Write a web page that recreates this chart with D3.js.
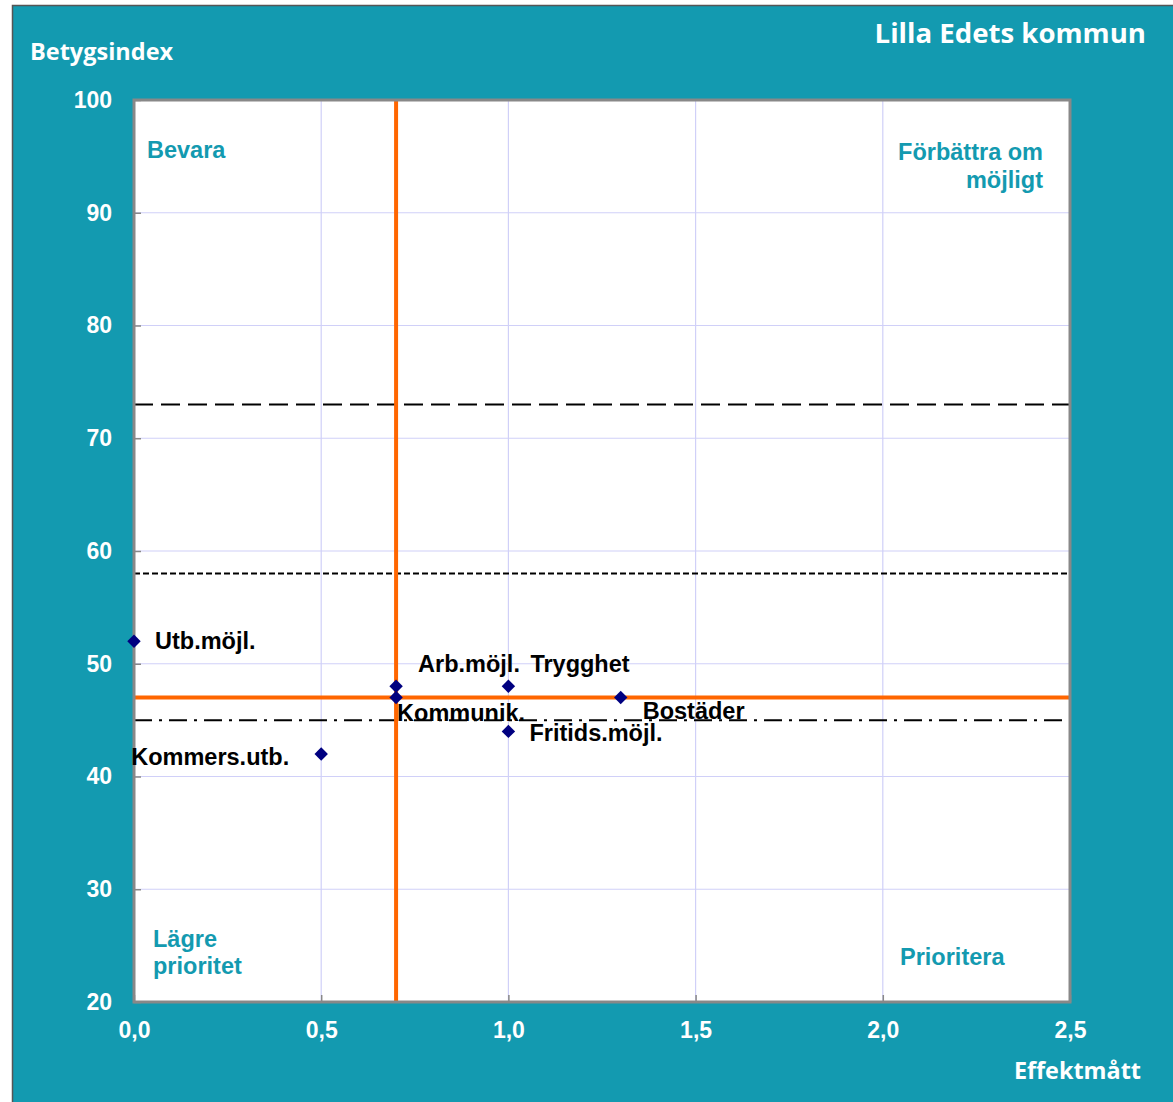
<!DOCTYPE html>
<html>
<head>
<meta charset="utf-8">
<script src="https://cdn.jsdelivr.net/npm/d3@7"></script>
<style>
  body { margin: 0; background: #fff; }
  svg { display: block; }
</style>
</head>
<body>
<div id="chart"></div>
<script>
// data
var names = ['Utb.möjl.', 'Arb.möjl.', 'Kommunik.', 'Trygghet', 'Fritids.möjl.', 'Bostäder', 'Kommers.utb.'];
var effekt = [0.0, 0.7, 0.7, 1.0, 1.0, 1.3, 0.5];
var betyg = [52, 48, 47, 48, 44, 47, 42];

var xTicks = [0, 0.5, 1.0, 1.5, 2.0, 2.5];
var yTicks = [20, 30, 40, 50, 60, 70, 80, 90, 100];

// reference lines
var midX = 0.7;          // orange vertical
var midY = 47;           // orange horizontal
var refLong = 73;        // long dashes
var refShort = 58;       // short dashes
var refDashDot = 45;     // dash-dot

var W = 1173, H = 1102;
var teal = '#139ab0';
var margins = {left: 134, right: 103, top: 100, bottom: 100};
var w = W - margins.left - margins.right,
    h = H - margins.top - margins.bottom;

var svg = d3.select('#chart')
  .append('svg')
  .attr('width', W)
  .attr('height', H);

// outer teal frame
svg.append('rect')
  .attr('x', 12.5).attr('y', 5.5)
  .attr('width', W).attr('height', H)
  .attr('fill', teal)
  .attr('stroke', '#555')
  .attr('stroke-width', 1.5);

var g = svg.append('g')
  .attr('transform', 'translate(' + margins.left + ',' + margins.top + ')');

var x = d3.scaleLinear().domain([0, 2.5]).range([0, w]);
var y = d3.scaleLinear().domain([20, 100]).range([h, 0]);

g.append('rect')
  .attr('width', w).attr('height', h)
  .attr('fill', '#fff');

// grid
g.append('g').selectAll('line')
  .data(yTicks.slice(1, -1))
  .enter().append('line')
  .attr('x1', 0).attr('x2', w)
  .attr('y1', function(d) { return y(d); })
  .attr('y2', function(d) { return y(d); })
  .attr('stroke', '#d0d0f8').attr('stroke-width', 1.2);
g.append('g').selectAll('line')
  .data(xTicks.slice(1, -1))
  .enter().append('line')
  .attr('y1', 0).attr('y2', h)
  .attr('x1', function(d) { return x(d); })
  .attr('x2', function(d) { return x(d); })
  .attr('stroke', '#d0d0f8').attr('stroke-width', 1.2);

// axes (ticks inside, labels white)
var fmt = function(d) { return d3.format('.1f')(d).replace('.', ','); };
var yAxis = g.append('g')
  .call(d3.axisLeft(y).tickValues(yTicks).tickSize(-7).tickPadding(22));
var xAxis = g.append('g')
  .attr('transform', 'translate(0,' + h + ')')
  .call(d3.axisBottom(x).tickValues(xTicks).tickSize(-7).tickPadding(20).tickFormat(fmt));
[xAxis, yAxis].forEach(function(a) {
  a.select('.domain').remove();
  a.selectAll('line').attr('stroke', '#888').attr('stroke-width', 1.5);
  a.selectAll('text')
    .attr('fill', '#fff')
    .style('font-family', '"Liberation Sans", Arial, sans-serif')
    .style('font-weight', 'bold')
    .style('font-size', '23px');
});

// dashed reference lines
function hline(v, dash) {
  g.append('line')
    .attr('x1', 0).attr('x2', w)
    .attr('y1', y(v)).attr('y2', y(v))
    .attr('stroke', '#000').attr('stroke-width', 2)
    .attr('stroke-dasharray', dash);
}
hline(refLong, '19,8');
hline(refShort, '6,3');
hline(refDashDot, '18,7,3,7');

// orange quadrant lines
g.append('line')
  .attr('x1', x(midX)).attr('x2', x(midX))
  .attr('y1', 0).attr('y2', h)
  .attr('stroke', '#ff6600').attr('stroke-width', 4);
g.append('line')
  .attr('x1', 0).attr('x2', w)
  .attr('y1', y(midY)).attr('y2', y(midY))
  .attr('stroke', '#ff6600').attr('stroke-width', 4);

// plot border
g.append('rect')
  .attr('width', w).attr('height', h)
  .attr('fill', 'none')
  .attr('stroke', '#888').attr('stroke-width', 3);

// quadrant captions
var qFont = '"Liberation Sans", Arial, sans-serif';
function caption(lines, px, py, anchor, lh) {
  var t = g.append('text')
    .attr('fill', teal)
    .style('font-family', qFont)
    .style('font-weight', 'bold')
    .style('font-size', '23.5px')
    .attr('text-anchor', anchor);
  lines.forEach(function(s, i) {
    t.append('tspan').attr('x', px).attr('y', py + i * lh).text(s);
  });
}
caption(['Bevara'], 13, 58, 'start', 28);
caption(['Förbättra om', 'möjligt'], 909, 60, 'end', 28);
caption(['Lägre', 'prioritet'], 19, 847, 'start', 27);
caption(['Prioritera'], 766, 865, 'start', 28);

// points
var pts = names.map(function(n, i) { return {name: n, x: effekt[i], y: betyg[i]}; });
g.append('g').selectAll('path')
  .data(pts)
  .enter().append('path')
  .attr('d', d3.symbol().type(d3.symbolDiamond2).size(115))
  .attr('transform', function(d) { return 'translate(' + x(d.x) + ',' + y(d.y) + ')'; })
  .attr('fill', '#000080');

// label offsets (px) relative to each point
var labelOffset = {
  'Utb.möjl.': [21, 8, 'start'],
  'Arb.möjl.': [22, -14, 'start'],
  'Kommunik.': [1, 23, 'start'],
  'Trygghet': [22, -14, 'start'],
  'Fritids.möjl.': [21, 10, 'start'],
  'Bostäder': [22, 21, 'start'],
  'Kommers.utb.': [-32, 11, 'end']
};
g.append('g').selectAll('text')
  .data(pts)
  .enter().append('text')
  .attr('x', function(d) { return x(d.x) + labelOffset[d.name][0]; })
  .attr('y', function(d) { return y(d.y) + labelOffset[d.name][1]; })
  .attr('text-anchor', function(d) { return labelOffset[d.name][2]; })
  .style('font-family', qFont)
  .style('font-weight', 'bold')
  .style('font-size', '23.5px')
  .attr('fill', '#000')
  .text(function(d) { return d.name; });

// titles
var tFont = '"Open Sans", "Noto Sans", sans-serif';
svg.append('text')
  .attr('x', 30).attr('y', 60)
  .attr('fill', '#fff')
  .style('font-family', tFont).style('font-weight', 'bold').style('font-size', '23.5px')
  .text('Betygsindex');
svg.append('text')
  .attr('x', 1146).attr('y', 43)
  .attr('text-anchor', 'end')
  .attr('fill', '#fff')
  .style('font-family', tFont).style('font-weight', 'bold').style('font-size', '27.6px')
  .text('Lilla Edets kommun');
svg.append('text')
  .attr('x', 1141).attr('y', 1079)
  .attr('text-anchor', 'end')
  .attr('fill', '#fff')
  .style('font-family', tFont).style('font-weight', 'bold').style('font-size', '23.4px')
  .text('Effektmått');
</script>
</body>
</html>
